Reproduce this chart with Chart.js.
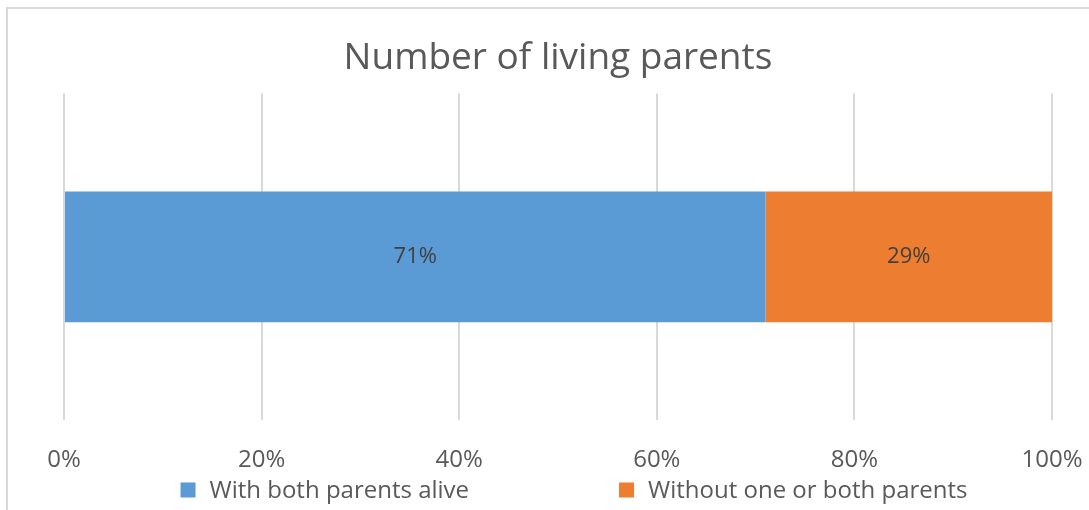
<!DOCTYPE html>
<html>
<head>
<meta charset="utf-8">
<script src="https://cdn.jsdelivr.net/npm/chart.js@4/dist/chart.umd.min.js"></script>
<style>
    html, body { margin: 0; padding: 0; background: #ffffff; overflow: hidden; }
    #wrap { position: absolute; left: 0; top: 0; width: 1089px; height: 510px; }
    #frame {
        position: absolute; left: 6px; top: 7px; width: 1100px; height: 600px;
        border-left: 2px solid #d9d9d9; border-top: 2px solid #d9d9d9;
        pointer-events: none;
    }
</style>
</head>
<body>
<div id="wrap"><canvas id="parentsChart"></canvas></div>
<div id="frame"></div>
<script>
// --- data ---
const categories = ['Living parents'];
const seriesNames = ['With both parents alive', 'Without one or both parents'];
const bothAlive = [71];
const withoutOneOrBoth = [29];
const tickValues = [0, 20, 40, 60, 80, 100];
const seriesColors = ['#5b9bd5', '#ed7d31'];

const FONT = "'Open Sans', 'Noto Sans', sans-serif";

// percentage labels in the middle of each segment
const segmentLabels = {
    id: 'segmentLabels',
    afterDatasetsDraw(chart) {
        const ctx = chart.ctx;
        ctx.save();
        ctx.font = '22px ' + FONT;
        ctx.fillStyle = '#404040';
        ctx.textAlign = 'center';
        ctx.textBaseline = 'middle';
        chart.data.datasets.forEach((ds, i) => {
            chart.getDatasetMeta(i).data.forEach((bar, j) => {
                const p = bar.getProps(['x', 'base', 'y'], true);
                ctx.fillText(ds.data[j] + '%', (p.x + p.base) / 2, p.y);
            });
        });
        ctx.restore();
    }
};

// legend row under the axis, items spread apart
const wideLegend = {
    id: 'wideLegend',
    afterDraw(chart) {
        const ctx = chart.ctx;
        const box = 15, textGap = 14, itemGap = 150;
        ctx.save();
        ctx.font = '24px ' + FONT;
        ctx.textBaseline = 'middle';
        const items = chart.data.datasets.map(ds => ({
            text: ds.label, color: ds.backgroundColor,
            w: box + textGap + ctx.measureText(ds.label).width
        }));
        const total = items.reduce((s, it) => s + it.w, 0) + itemGap * (items.length - 1);
        const centerX = (chart.chartArea.left + chart.chartArea.right) / 2 + 16;
        const y = 490;
        let x = centerX - total / 2;
        items.forEach(it => {
            ctx.fillStyle = it.color;
            ctx.fillRect(x, y - box / 2, box, box);
            ctx.fillStyle = '#595959';
            ctx.textAlign = 'left';
            ctx.fillText(it.text, x + box + textGap, y + 1);
            x += it.w + itemGap;
        });
        ctx.restore();
    }
};

const ctx = document.getElementById('parentsChart').getContext('2d');
new Chart(ctx, {
    type: 'bar',
    data: {
        labels: categories,
        datasets: [
            { label: seriesNames[0], data: bothAlive, backgroundColor: seriesColors[0] },
            { label: seriesNames[1], data: withoutOneOrBoth, backgroundColor: seriesColors[1] }
        ]
    },
    options: {
        indexAxis: 'y',
        responsive: true,
        maintainAspectRatio: false,
        animation: false,
        categoryPercentage: 0.4,
        barPercentage: 1,
        layout: {
            padding: { left: 64, right: 37, top: 0, bottom: 31 }
        },
        plugins: {
            legend: { display: false },
            tooltip: { enabled: false },
            title: {
                display: true,
                text: 'Number of living parents',
                color: '#595959',
                font: { family: FONT, size: 37, weight: 'normal' },
                padding: { top: 36, bottom: 13 }
            }
        },
        scales: {
            x: {
                stacked: true,
                min: 0,
                max: 100,
                afterBuildTicks(axis) {
                    axis.ticks = tickValues.map(v => ({ value: v }));
                },
                // tick marks are invisible; their length only spaces the labels
                grid: {
                    color: '#d9d9d9', lineWidth: 2,
                    drawTicks: true, tickLength: 22, tickColor: 'rgba(0,0,0,0)'
                },
                border: { display: false },
                ticks: {
                    padding: 4,
                    color: '#595959',
                    font: { family: FONT, size: 24 },
                    callback: v => v + '%'
                }
            },
            y: {
                stacked: true,
                display: false
            }
        }
    },
    plugins: [segmentLabels, wideLegend]
});
</script>
</body>
</html>
